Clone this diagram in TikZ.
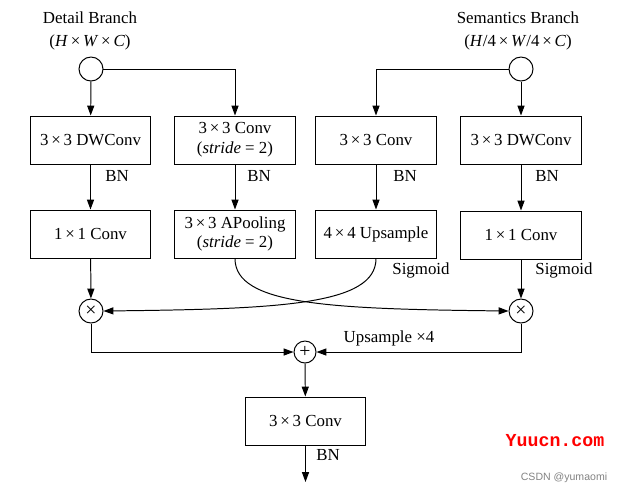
\documentclass[tikz,border=0pt]{standalone}
\usepackage{fontspec}
\setmainfont{Liberation Serif}
\newfontfamily\wmsans{Liberation Sans}
\newfontfamily\wmmono{Liberation Mono}
\usepackage{xcolor}
\definecolor{wmred}{RGB}{255,0,0}
\definecolor{wmgray}{RGB}{130,130,130}
\usetikzlibrary{arrows.meta,positioning,calc}

\begin{document}
\begin{tikzpicture}[x=0.025cm,y=-0.025cm,
  opbox/.style={draw,line width=0.7pt,minimum width=3.02cm,minimum height=1.2cm,
    align=center,font=\fontsize{12}{14}\selectfont,inner sep=2pt},
  joint/.style={draw,circle,line width=0.7pt,minimum size=0.6cm,inner sep=0pt,
    font=\fontsize{14}{14}\selectfont},
  flow/.style={draw,line width=0.7pt,-{Triangle[length=7pt,width=5pt]}},
  lbl/.style={font=\fontsize{12}{14}\selectfont,inner sep=1pt}
]
  \useasboundingbox (0,0) rectangle (617,496);
  % Inputs
  \node[lbl] (detname) at (90,18) {Detail Branch};
  \node[lbl] (detsize) at (90,42) {(\textit{H}\,×\,\textit{W}\,×\,\textit{C})};
  \node[lbl] (semname) at (518,18) {Semantics Branch};
  \node[lbl] (semsize) at (518,42) {(\textit{H}/4\,×\,\textit{W}/4\,×\,\textit{C})};
  \node[joint] (detin) at (91,69) {};
  \node[joint] (semin) at (521,69) {};
  % Row 1
  \node[opbox] (dw1) at (90.5,140) {3\,×\,3 DWConv};
  \node[opbox] (cv1) at (235,140) {3\,×\,3 Conv\\(\textit{stride} = 2)};
  \node[opbox] (cv2) at (376,140) {3\,×\,3 Conv};
  \node[opbox] (dw2) at (521,140) {3\,×\,3 DWConv};
  % Row 2
  \node[opbox] (pw1) at (90.5,234) {1\,×\,1 Conv};
  \node[opbox] (pool) at (235,234) {3\,×\,3 APooling\\(\textit{stride} = 2)};
  \node[opbox] (up) at (376,234) {4\,×\,4 Upsample};
  \node[opbox] (pw2) at (521,235) {1\,×\,1 Conv};
  % Aggregation
  \node[joint] (mul1) at (91,311) {×};
  \node[joint] (mul2) at (521,311) {×};
  \node[joint,minimum size=0.55cm] (sum) at (305,352) {+};
  \node[opbox] (out) at (305.5,421) {3\,×\,3 Conv};
  \coordinate (end) at (305.5,482);
  % Connectors
  \draw[flow] (detin) -- (dw1);
  \draw[flow] (detin) -| (cv1);
  \draw[flow] (semin) -- (dw2);
  \draw[flow] (semin) -| (cv2);
  \draw[flow] (dw1) -- (pw1);
  \draw[flow] (cv1) -- (pool);
  \draw[flow] (cv2) -- (up);
  \draw[flow] (dw2) -- (pw2);
  \draw[flow] (pw1) -- (mul1);
  \draw[flow] (pw2) -- (mul2);
  \draw[flow] (pool.south) .. controls (235,305) and (330,309) .. (mul2.west);
  \draw[flow] (up.south) .. controls (376,305) and (280,309) .. (mul1.east);
  \draw[flow] (mul1) |- (sum);
  \draw[flow] (mul2) |- (sum);
  \draw[flow] (sum) -- (out);
  \draw[flow] (out) -- (end);
  % Labels
  \node[lbl] (bn1) at (117,176) {BN};
  \node[lbl] (bn2) at (259,176) {BN};
  \node[lbl] (bn3) at (405,176) {BN};
  \node[lbl] (bn4) at (547,176) {BN};
  \node[lbl] (bn5) at (328,455) {BN};
  \node[lbl] (sig1) at (421,270) {Sigmoid};
  \node[lbl] (sig2) at (564,270) {Sigmoid};
  \node[lbl] (ups) at (389,338) {Upsample ×4};
  % Watermarks
  \node[font=\wmmono\bfseries\fontsize{13}{15}\selectfont,text=wmred,inner sep=0pt] (wm1) at (555,441) {Yuucn.com};
  \node[font=\wmsans\fontsize{7.5}{9}\selectfont,text=wmgray,inner sep=0pt] (wm2) at (564,478) {CSDN @yumaomi};
\end{tikzpicture}
\end{document}
